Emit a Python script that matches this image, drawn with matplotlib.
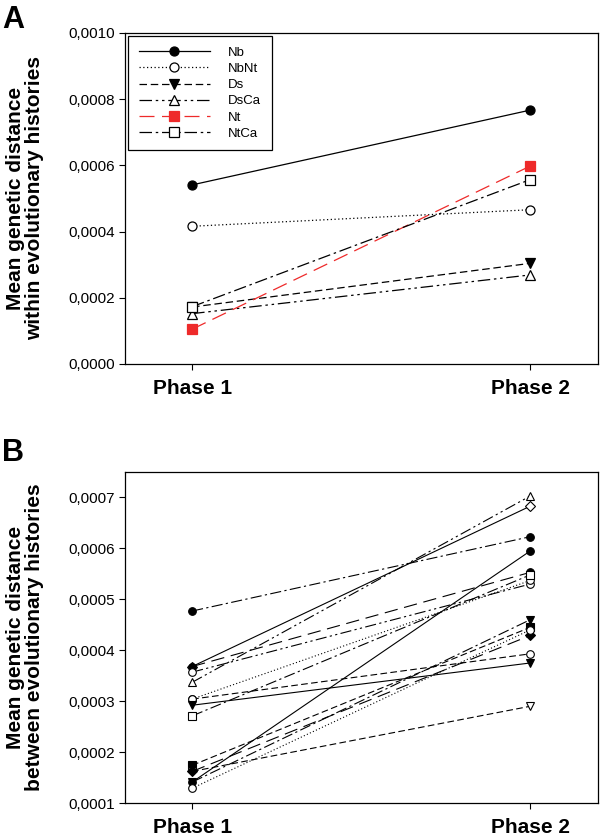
#!/usr/bin/env python3

import matplotlib
matplotlib.use('Agg')
import matplotlib.pyplot as plt
from matplotlib.ticker import FuncFormatter

plt.rcParams['font.family'] = ['Liberation Sans', 'DejaVu Sans']

phases = ['Phase 1', 'Phase 2']

# panel A: within evolutionary histories
groups_a = ['Nb', 'NbNt', 'Ds', 'DsCa', 'Nt', 'NtCa']
phase1_a = [0.000541, 0.000416, 0.000172, 0.000152, 0.000105, 0.000173]
phase2_a = [0.000767, 0.000466, 0.000304, 0.000269, 0.000598, 0.000557]

# panel B: between evolutionary histories (15 pairs)
phase1_b = [0.000477, 0.000368, 0.000337, 0.000368, 0.000357,
            0.000304, 0.000304, 0.000292, 0.000271, 0.000141,
            0.000174, 0.000162, 0.000162, 0.000141, 0.000129]
phase2_b = [0.000623, 0.000683, 0.000703, 0.000553, 0.000530,
            0.000537, 0.000393, 0.000375, 0.000548, 0.000595,
            0.000445, 0.000290, 0.000429, 0.000460, 0.000440]

# line styles
SOLID = '-'
DOT = (0, (1, 2))
DASH = (0, (6, 3))
DASHDOTDOT = (0, (10, 3, 2, 3, 2, 3))
LONGDASH = (0, (12, 6))
DASHDOT = (0, (10, 3, 2, 3))

RED = '#ee2a2a'
styles_a = [
    dict(ls=SOLID, marker='o', mfc='black', mec='black', color='black'),
    dict(ls=DOT, marker='o', mfc='white', mec='black', color='black'),
    dict(ls=DASH, marker='v', mfc='black', mec='black', color='black'),
    dict(ls=DASHDOTDOT, marker='^', mfc='white', mec='black', color='black'),
    dict(ls=LONGDASH, marker='s', mfc=RED, mec=RED, color=RED),
    dict(ls=DASHDOT, marker='s', mfc='white', mec='black', color='black'),
]

styles_b = [
    (DASHDOT, 'o', 'black'),
    (SOLID, 'D', 'white'),
    (DASHDOTDOT, '^', 'white'),
    (LONGDASH, 'o', 'black'),
    (DASHDOTDOT, 'o', 'white'),
    (DOT, 'o', 'white'),
    (DASH, 'o', 'white'),
    (SOLID, 'v', 'black'),
    (DASHDOT, 's', 'white'),
    (SOLID, 'o', 'black'),
    (DASH, 's', 'black'),
    (DASH, 'v', 'white'),
    (LONGDASH, 'D', 'black'),
    (DASHDOT, 'v', 'black'),
    (DOT, 'o', 'white'),
]

comma = FuncFormatter(lambda v, p: f'{v:.4f}'.replace('.', ','))

fig = plt.figure(figsize=(6, 8.39), dpi=100)
ax_a = fig.add_axes([0.2075, 0.5662, 0.789, 0.3945])
ax_b = fig.add_axes([0.2075, 0.0429, 0.789, 0.3945])

x = [1, 2]
for name, y1, y2, st in zip(groups_a, phase1_a, phase2_a, styles_a):
    ax_a.plot(x, [y1, y2], linestyle=st['ls'], color=st['color'], lw=0.9,
              marker=st['marker'], ms=6.5, mfc=st['mfc'], mec=st['mec'],
              mew=0.9, label=name)

for y1, y2, (ls, mk, fc) in zip(phase1_b, phase2_b, styles_b):
    ax_b.plot(x, [y1, y2], linestyle=ls, color='black', lw=0.8,
              marker=mk, ms=5.5 if mk != 'D' else 5, mfc=fc, mec='black',
              mew=0.8)

ax_a.set_ylim(0, 0.001)
ax_a.set_yticks([0, 0.0002, 0.0004, 0.0006, 0.0008, 0.0010])
ax_b.set_ylim(0.0001, 0.00075)
ax_b.set_yticks([0.0001, 0.0002, 0.0003, 0.0004, 0.0005, 0.0006, 0.0007])

for ax in (ax_a, ax_b):
    ax.set_xlim(0.8, 2.2)
    ax.set_xticks(x)
    ax.set_xticklabels(phases, fontsize=15, fontweight='bold')
    ax.yaxis.set_major_formatter(comma)
    ax.tick_params(axis='y', labelsize=11, direction='out', length=4,
                   width=0.8, pad=3)
    ax.tick_params(axis='x', direction='out', length=4, width=0.8, pad=7)
    for s in ax.spines.values():
        s.set_linewidth(0.9)
    ax.yaxis.set_label_coords(-0.17, 0.5)

ax_a.set_ylabel('Mean genetic distance\nwithin evolutionary histories',
                fontsize=15, fontweight='bold', linespacing=1.0)
ax_b.set_ylabel('Mean genetic distance\nbetween evolutionary histories',
                fontsize=15, fontweight='bold', linespacing=1.0)

leg = ax_a.legend(loc='upper left', bbox_to_anchor=(0.0074, 0.991),
                  borderaxespad=0, fontsize=9.5, handlelength=5.4,
                  handletextpad=1.4, labelspacing=0.3, fancybox=False,
                  borderpad=0.8, framealpha=1)
leg.get_frame().set_edgecolor('black')
leg.get_frame().set_linewidth(0.9)

fig.text(0.004, 0.994, 'A', fontsize=22, fontweight='bold', va='top')
fig.text(0.004, 0.478, 'B', fontsize=22, fontweight='bold', va='top')

fig.savefig('out.png', dpi=100)
